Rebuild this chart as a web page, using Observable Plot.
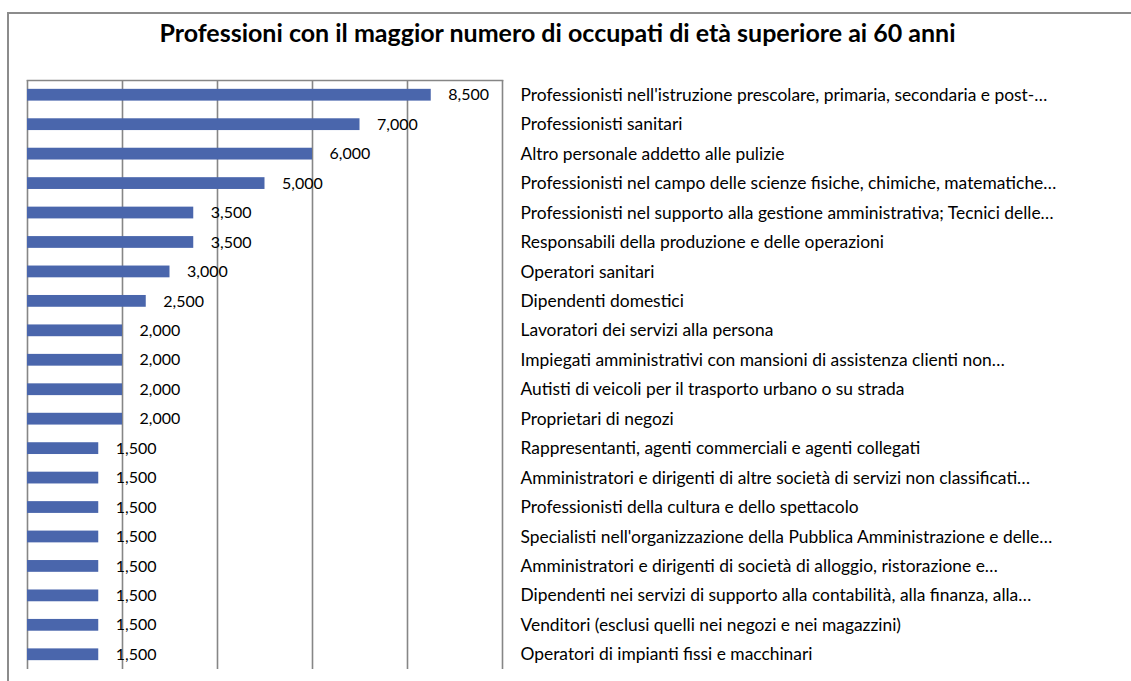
<!DOCTYPE html>
<html>
<head>
<meta charset="utf-8">
<script src="https://cdn.jsdelivr.net/npm/d3@7"></script>
<script src="https://cdn.jsdelivr.net/npm/@observablehq/plot@0.6"></script>
<style>
  html, body { margin: 0; padding: 0; background: #fff; overflow: hidden; }
  #wrap { position: relative; width: 1131px; height: 681px; overflow: hidden; }
  #box { position: absolute; left: 7px; top: 12px; width: 1200px; height: 800px; border-left: 2px solid #8c8c8c; border-top: 2px solid #8c8c8c; box-sizing: border-box; }
  #title { position: absolute; left: 0; top: 17px; width: 1115px; text-align: center; font-family: Lato, "Open Sans", sans-serif; font-weight: bold; font-size: 25px; color: #000; }
  #chart { position: absolute; left: 0; top: 0; }
</style>
</head>
<body>
<div id="wrap">
  <div id="box"></div>
  <div id="title">Professioni con il maggior numero di occupati di età superiore ai 60 anni</div>
  <div id="chart"></div>
</div>
<script>
const categories = [
  "Professionisti nell'istruzione prescolare, primaria, secondaria e post-…",
  "Professionisti sanitari",
  "Altro personale addetto alle pulizie",
  "Professionisti nel campo delle scienze fisiche, chimiche, matematiche…",
  "Professionisti nel supporto alla gestione amministrativa; Tecnici delle…",
  "Responsabili della produzione e delle operazioni",
  "Operatori sanitari",
  "Dipendenti domestici",
  "Lavoratori dei servizi alla persona",
  "Impiegati amministrativi con mansioni di assistenza clienti non…",
  "Autisti di veicoli per il trasporto urbano o su strada",
  "Proprietari di negozi",
  "Rappresentanti, agenti commerciali e agenti collegati",
  "Amministratori e dirigenti di altre società di servizi non classificati…",
  "Professionisti della cultura e dello spettacolo",
  "Specialisti nell'organizzazione della Pubblica Amministrazione e delle…",
  "Amministratori e dirigenti di società di alloggio, ristorazione e…",
  "Dipendenti nei servizi di supporto alla contabilità, alla finanza, alla…",
  "Venditori (esclusi quelli nei negozi e nei magazzini)",
  "Operatori di impianti fissi e macchinari"
];
const values = [8500, 7000, 6000, 5000, 3500, 3500, 3000, 2500, 2000, 2000, 2000, 2000, 1500, 1500, 1500, 1500, 1500, 1500, 1500, 1500];
const gridTicks = [0, 2000, 4000, 6000, 8000, 10000];

const data = categories.map((c, i) => ({cat: c, value: values[i]}));
const fmt = d3.format(",");

const chart = Plot.plot({
  width: 1131,
  height: 681,
  marginLeft: 27,
  marginRight: 629,
  marginTop: 80,
  marginBottom: 12,
  style: {fontFamily: 'Lato, "Open Sans", sans-serif', fontSize: "16px", color: "#000", background: "transparent"},
  x: {domain: [0, 10000], axis: null},
  y: {domain: categories, paddingInner: 0.6, paddingOuter: 0.3, round: false, axis: null},
  marks: [
    Plot.ruleX(gridTicks, {stroke: "#868686", strokeWidth: 1.6, strokeOpacity: 1}),
    Plot.frame({anchor: "top", stroke: "#868686", strokeWidth: 1.6}),
    Plot.barX(data, {x: "value", y: "cat", fill: "#4a66ac"}),
    Plot.text(data, {x: "value", y: "cat", text: d => fmt(d.value), dx: 17, textAnchor: "start", fill: "#000", fontSize: 16}),
    Plot.axisY({anchor: "right", tickSize: 0, tickPadding: 18, label: null, fontSize: 17.4, textAnchor: "start"})
  ]
});
document.getElementById("chart").appendChild(chart);
</script>
</body>
</html>
